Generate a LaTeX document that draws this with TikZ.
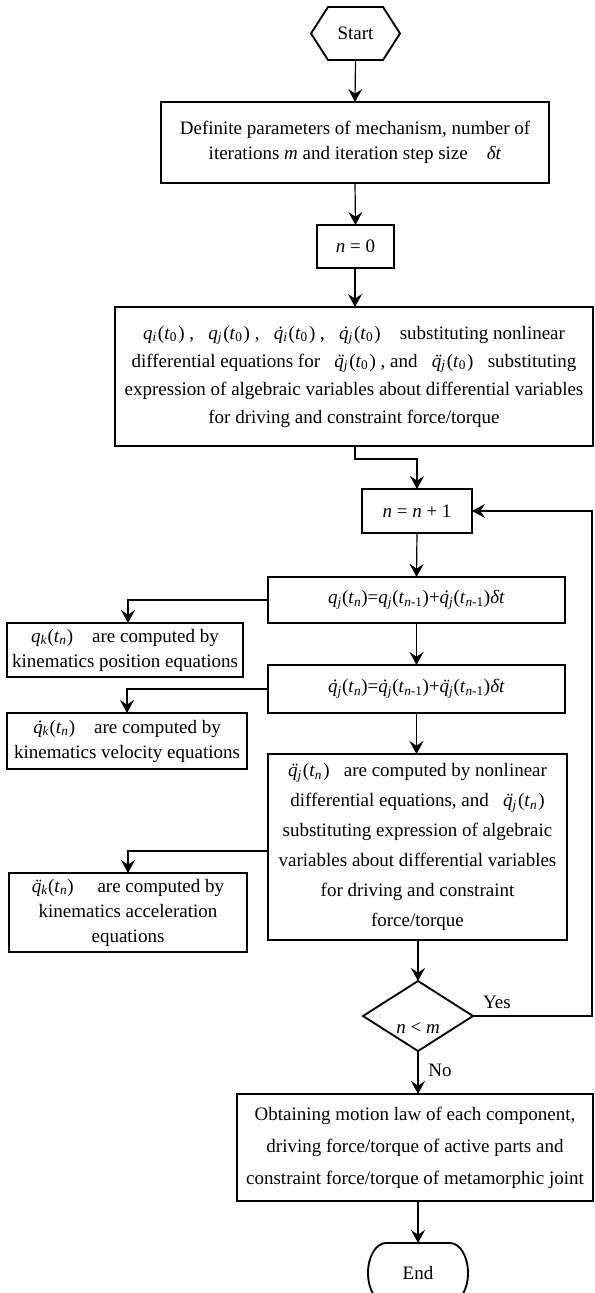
\documentclass[tikz,border=0pt]{standalone}
\usepackage{fontspec}
\setmainfont{Liberation Serif}
\usetikzlibrary{arrows.meta,calc}
\newcommand{\accq}[1]{{\itshape\makebox[0pt][l]{\makebox[\fontcharwd\font`q][c]{\kern0.1em#1}}q}}
\newcommand{\qd}{\accq{^^^^02d9}}
\newcommand{\qdd}{\accq{^^^^00a8}}
\newcommand{\tm}[1]{\kern0.8pt(\textit{t}\textsubscript{#1}\kern0.8pt)}
\newcommand{\sv}[2]{\textit{#1}\textsubscript{\textit{#2}}}
\newcommand{\fs}[1]{\fontsize{14.25}{#1}\selectfont}
\begin{document}
\begin{tikzpicture}[x=0.75pt,y=-0.75pt,
  box/.style={draw, line width=1.4pt, align=center, inner sep=0pt, outer sep=0pt},
  ghost/.style={draw=none, align=center, inner sep=0pt, outer sep=0pt},
  shapeline/.style={line width=1.4pt, line join=miter},
  arr/.style={line width=0.9pt, -{Stealth[length=9.75pt,width=10.5pt,inset=3.5pt]}},
  lbl/.style={font=\fs{18}, inner sep=0pt, outer sep=0pt}]
\fill[white] (0,0) rectangle (594,1293);
\useasboundingbox (0,0) rectangle (594,1293);
\clip (0,0) rectangle (594,1293);

% start hexagon
\node[ghost, minimum width=66.75pt, minimum height=39.75pt, font=\fs{18}] (start) at (355.5,33.5) {Start};
\draw[shapeline] (start.west) -- ([xshift=12.75pt]start.north west) -- ([xshift=-12.75pt]start.north east)
  -- (start.east) -- ([xshift=-12.75pt]start.south east) -- ([xshift=12.75pt]start.south west) -- cycle;

\node[box, minimum width=291pt, minimum height=60.75pt, font=\fs{18.75}] (def) at (355,142.5)
  {Definite parameters of mechanism, number of\\ iterations \textit{m} and iteration step size\quad \textit{δt}};

\node[box, minimum width=57.75pt, minimum height=32.25pt, font=\fs{18}] (n0) at (355.5,246.5) {\textit{n} = 0};

\node[box, minimum width=358.5pt, minimum height=104.25pt, font=\fs{21}] (init) at (354,376.5)
  {\sv{q}{i}\tm{0} ,\enspace\ \sv{q}{j}\tm{0} ,\enspace\ \sv{\qd}{i}\tm{0} ,\enspace\ \sv{\qd}{j}\tm{0}\quad substituting nonlinear\\
   differential equations for\enspace\ \sv{\qdd}{j}\tm{0} , and\enspace\ \sv{\qdd}{j}\tm{0}\enspace\ substituting\\
   expression of algebraic variables about differential variables\\
   for driving and constraint force/torque};

\node[box, minimum width=82.5pt, minimum height=33pt, font=\fs{18}] (inc) at (417,511) {\textit{n} = \textit{n} + 1};

\node[box, minimum width=222.75pt, minimum height=34.5pt, font=\fs{18}] (qj) at (416.5,600)
  {\sv{q}{j}(\textit{t}\textsubscript{\textit{n}})=\sv{q}{j}(\textit{t}\textsubscript{\textit{n}-1})+\sv{\qd}{j}(\textit{t}\textsubscript{\textit{n}-1})\textit{δt}};

\node[box, minimum width=222.75pt, minimum height=36pt, font=\fs{18}] (qdj) at (416.5,689)
  {\sv{\qd}{j}(\textit{t}\textsubscript{\textit{n}})=\sv{\qd}{j}(\textit{t}\textsubscript{\textit{n}-1})+\sv{\qdd}{j}(\textit{t}\textsubscript{\textit{n}-1})\textit{δt}};

\node[box, minimum width=224.25pt, minimum height=139.5pt, font=\fs{22.5}] (qddj) at (417.5,847)
  {\sv{\qdd}{j}\tm{\textit{n}}\enspace\ are computed by nonlinear\\
   differential equations, and\enspace\ \sv{\qdd}{j}\tm{\textit{n}}\\
   substituting expression of algebraic\\
   variables about differential variables\\
   for driving and constraint\\
   force/torque};

\node[box, minimum width=177pt, minimum height=40.5pt, font=\fs{18.75}] (qk) at (125,650)
  {\sv{q}{k}(\textit{t}\textsubscript{\textit{n}})\quad are computed by\\ kinematics position equations};

\node[box, minimum width=180pt, minimum height=42pt, font=\fs{18.75}] (qdk) at (127,741)
  {\sv{\qd}{k}(\textit{t}\textsubscript{\textit{n}})\quad are computed by\\ kinematics velocity equations};

\node[box, minimum width=178.5pt, minimum height=59.25pt, font=\fs{18.75}] (qddk) at (128,912.5)
  {\sv{\qdd}{k}(\textit{t}\textsubscript{\textit{n}})\quad\ are computed by\\ kinematics acceleration\\ equations};

% decision diamond
\node[ghost, minimum width=82.5pt, minimum height=52.5pt, font=\fs{18}] (dia) at (418,1016)
  {\raisebox{-12.75pt}[0pt][0pt]{\textit{n} < \textit{m}}};
\draw[shapeline] (dia.north) -- (dia.east) -- (dia.south) -- (dia.west) -- cycle;

\node[box, minimum width=267pt, minimum height=80.25pt, font=\fs{24}] (fin) at (415,1147.5)
  {Obtaining motion law of each component,\\ driving force/torque of active parts and\\ constraint force/torque of metamorphic joint};

% terminal
\node[ghost, minimum width=75pt, minimum height=45pt, font=\fs{18}] (endn) at (418,1273) {End};
\draw[shapeline] ([xshift=13.5pt]endn.north west) -- ([xshift=-13.5pt]endn.north east)
  arc[start angle=90, end angle=-90, x radius=13.5pt, y radius=22.5pt]
  -- ([xshift=13.5pt]endn.south west)
  arc[start angle=270, end angle=90, x radius=13.5pt, y radius=22.5pt] -- cycle;

% labels
\node[lbl] (yes) at (497,1002) {Yes};
\node[lbl] (no) at (440,1070) {No};

% connectors
\coordinate (rt) at (592,0);
\draw[arr] (start.south) -- (def.north);
\draw[arr] (def.south) -- (n0.north);
\draw[arr] (n0.south -| def.south) -- (init.north -| def.south);
\draw[arr] (init.south -| def.south) -- ++(0,13) -| (inc.north);
\draw[arr] (inc.south) -- (qj.north);
\draw[arr] (qj.south) -- (qdj.north);
\draw[arr] (qdj.south) -- (qddj.north -| qdj.south);
\draw[arr] (qddj.south -| dia.north) -- (dia.north);
\draw[arr] (dia.south) -- (fin.north -| dia.south);
\draw[arr] (fin.south -| endn.north) -- (endn.north);
\draw[arr] (qj.west) -| ([xshift=2.25pt]qk.north);
\draw[arr] (qdj.west) -| (qdk.north);
\draw[arr] ([yshift=-3pt]qddj.west) -| (qddk.north);
\draw[arr] (dia.east) -- (dia.east -| rt) |- (inc.east);
\end{tikzpicture}
\end{document}
